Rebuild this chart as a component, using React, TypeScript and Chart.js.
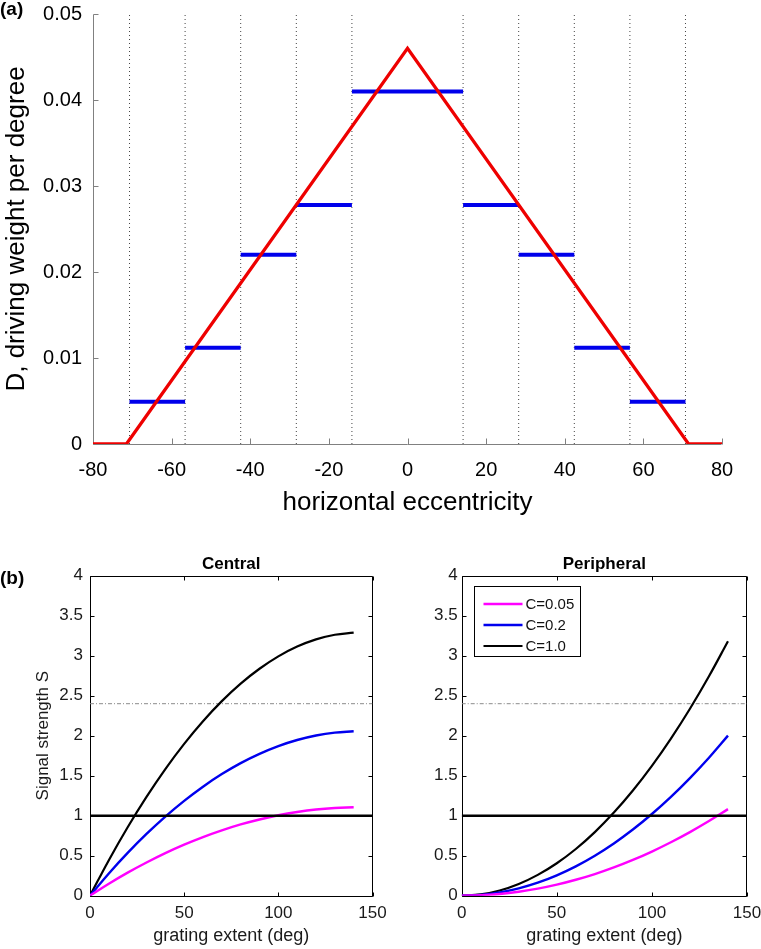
import React, { useEffect, useRef } from 'react';
import { Chart, registerables } from 'chart.js';

Chart.register(...registerables);
Chart.defaults.font.family = '"Liberation Sans", Arial, Helvetica, sans-serif';

// ---------- Panel (a): driving weight vs horizontal eccentricity ----------
const eccTicks = [-80, -60, -40, -20, 0, 20, 40, 60, 80];
const weightTicks = [0, 0.01, 0.02, 0.03, 0.04, 0.05];
const binEdges = [-70.71, -56.57, -42.43, -28.28, -14.14, 14.14, 28.28, 42.43, 56.57, 70.71];
const binWeights = [0.0049, 0.0112, 0.022, 0.0278, 0.041, 0.0278, 0.022, 0.0112, 0.0049];
const profileX = [-80, -71.5, 0, 71.5, 80];
const profileD = [0, 0, 0.046, 0, 0];

// ---------- Panel (b): signal strength vs grating extent ----------
const extentTicks = [0, 50, 100, 150];
const signalTicks = [0, 0.5, 1, 1.5, 2, 2.5, 3, 3.5, 4];
const extent = [0, 10, 20, 30, 40, 50, 60, 70, 80, 90, 100, 110, 120, 130, 140];
const centralC005 = [0, 0.149, 0.288, 0.415, 0.532, 0.638, 0.733, 0.817, 0.891, 0.953, 1.005, 1.046, 1.077, 1.096, 1.105];
const centralC02 = [0, 0.278, 0.535, 0.772, 0.989, 1.186, 1.363, 1.52, 1.657, 1.773, 1.87, 1.946, 2.003, 2.039, 2.055];
const centralC10 = [0, 0.444, 0.856, 1.235, 1.583, 1.898, 2.181, 2.432, 2.651, 2.837, 2.992, 3.114, 3.204, 3.262, 3.288];
const periphC005 = [0, 0.006, 0.022, 0.05, 0.088, 0.138, 0.199, 0.27, 0.353, 0.447, 0.552, 0.668, 0.795, 0.933, 1.082];
const periphC02 = [0, 0.01, 0.041, 0.092, 0.163, 0.255, 0.367, 0.5, 0.653, 0.827, 1.021, 1.235, 1.47, 1.725, 2.001];
const periphC10 = [0, 0.016, 0.065, 0.146, 0.26, 0.406, 0.584, 0.795, 1.039, 1.315, 1.623, 1.964, 2.337, 2.743, 3.181];
const contrastLabels = ['C=0.05', 'C=0.2', 'C=1.0'];
const contrastColors = ['#ff00ff', '#0000ee', '#000000'];
const thresholdS = 1;
const criterionS = 2.4;

const fmt = (v: any) => String(Number(Number(v).toFixed(6)));

// Draws MATLAB-like axes with inward ticks
const matlabAxes = {
  id: 'matlabAxes',
  beforeDatasetsDraw(chart: any, _args: any, opts: any) {
    if (!opts || !opts.enabled) return;
    const { ctx, chartArea: a } = chart;
    const xs = chart.scales.x;
    const ys = chart.scales.y;
    const L = Math.round(a.left) + 0.5;
    const R = Math.round(a.right) - 0.5;
    const T = Math.round(a.top) + 0.5;
    const B = Math.round(a.bottom) + 0.5;
    ctx.save();
    ctx.strokeStyle = opts.color;
    ctx.lineWidth = 1;
    ctx.beginPath();
    ctx.moveTo(L, T);
    ctx.lineTo(L, B);
    ctx.lineTo(R, B);
    if (opts.box) {
      ctx.lineTo(R, T);
      ctx.lineTo(L, T);
    }
    ctx.stroke();
    ctx.beginPath();
    xs.ticks.forEach((t: any) => {
      const px = Math.round(xs.getPixelForValue(t.value)) + 0.5;
      ctx.moveTo(px, B);
      ctx.lineTo(px, B - opts.xLen);
      if (opts.box) {
        ctx.moveTo(px, T);
        ctx.lineTo(px, T + opts.xLen);
      }
    });
    ys.ticks.forEach((t: any) => {
      const py = Math.round(ys.getPixelForValue(t.value)) + 0.5;
      ctx.moveTo(L, py);
      ctx.lineTo(L + opts.yLen, py);
      if (opts.box) {
        ctx.moveTo(R, py);
        ctx.lineTo(R - opts.yLen, py);
      }
    });
    ctx.stroke();
    ctx.restore();
  },
};

// Legend drawn inside the plot area (top-left), like MATLAB
const insetLegend = {
  id: 'insetLegend',
  afterDraw(chart: any, _args: any, opts: any) {
    if (!opts || !opts.enabled) return;
    const { ctx, chartArea: a } = chart;
    const items = chart.data.datasets.filter((d: any) => d.inLegend);
    const bx = Math.round(a.left + opts.dx) + 0.5;
    const by = Math.round(a.top + opts.dy) + 0.5;
    ctx.save();
    ctx.fillStyle = '#ffffff';
    ctx.fillRect(bx, by, opts.w, opts.h);
    ctx.strokeStyle = '#000';
    ctx.lineWidth = 1;
    ctx.strokeRect(bx, by, opts.w, opts.h);
    ctx.font = opts.font;
    ctx.textBaseline = 'middle';
    ctx.textAlign = 'left';
    items.forEach((d: any, i: number) => {
      const cy = Math.round(by + opts.first + i * opts.step);
      ctx.strokeStyle = d.borderColor;
      ctx.lineWidth = d.borderWidth;
      ctx.beginPath();
      ctx.moveTo(bx + opts.lineX0, cy);
      ctx.lineTo(bx + opts.lineX1, cy);
      ctx.stroke();
      ctx.fillStyle = '#111';
      ctx.fillText(d.label, bx + opts.textX, cy + 0.5);
    });
    ctx.restore();
  },
};

function fixedBox(width?: number, height?: number) {
  return (s: any) => {
    if (width !== undefined) s.width = width;
    if (height !== undefined) s.height = height;
    s.paddingLeft = 0;
    s.paddingRight = 0;
    s.paddingTop = 0;
    s.paddingBottom = 0;
  };
}

function configA(): any {
  const datasets: any[] = [
    {
      label: 'D',
      data: profileX.map((x, i) => ({ x, y: profileD[i] })),
      borderColor: 'rgb(238,0,0)',
      borderWidth: 3.3,
      pointRadius: 0,
      tension: 0,
      borderJoinStyle: 'miter',
    },
    ...binWeights.map((w, i) => ({
      label: 'bin' + i,
      data: [
        { x: binEdges[i], y: w },
        { x: binEdges[i + 1], y: w },
      ],
      borderColor: 'rgb(0,0,235)',
      borderWidth: 4,
      pointRadius: 0,
    })),
    ...binEdges.map((b, i) => ({
      label: 'edge' + i,
      data: [
        { x: b, y: weightTicks[0] },
        { x: b, y: weightTicks[weightTicks.length - 1] },
      ],
      borderColor: '#444',
      borderWidth: 1,
      borderDash: [1, 3],
      pointRadius: 0,
    })),
  ];
  return {
    type: 'line',
    data: { datasets },
    options: {
      responsive: false,
      animation: false,
      events: [],
      layout: { padding: { top: 14, right: 39, left: 0, bottom: 0 } },
      plugins: {
        legend: { display: false },
        tooltip: { enabled: false },
        matlabAxes: { enabled: true, box: false, color: '#808080', xLen: 6, yLen: 5 },
      },
      scales: {
        x: {
          type: 'linear',
          min: eccTicks[0],
          max: eccTicks[eccTicks.length - 1],
          afterBuildTicks: (s: any) => {
            s.ticks = eccTicks.map((v) => ({ value: v }));
          },
          afterFit: fixedBox(undefined, 86),
          grid: { display: false, drawTicks: false, tickLength: 0 },
          border: { display: false },
          ticks: { callback: fmt, font: { size: 20 }, color: '#000', padding: 14, maxRotation: 0, autoSkip: false },
          title: {
            display: true,
            text: 'horizontal eccentricity',
            font: { size: 26 },
            color: '#000',
            padding: { top: 0, bottom: 11.4 },
          },
        },
        y: {
          type: 'linear',
          min: weightTicks[0],
          max: weightTicks[weightTicks.length - 1],
          afterBuildTicks: (s: any) => {
            s.ticks = weightTicks.map((v) => ({ value: v }));
          },
          afterFit: fixedBox(93, undefined),
          grid: { display: false, drawTicks: false, tickLength: 0 },
          border: { display: false },
          ticks: { callback: fmt, font: { size: 20 }, color: '#000', padding: 11, autoSkip: false },
          title: {
            display: true,
            text: 'D, driving weight per degree',
            font: { size: 26 },
            color: '#000',
            padding: { top: 1, bottom: 0 },
          },
        },
      },
    },
    plugins: [matlabAxes],
  };
}

function configB(
  title: string,
  low: number[],
  mid: number[],
  high: number[],
  yWidth: number,
  yPad: number,
  showYTitle: boolean,
  rightPad: number,
  showLegend: boolean
): any {
  const series = [low, mid, high];
  const xMin = extentTicks[0];
  const xMax = extentTicks[extentTicks.length - 1];
  const datasets: any[] = [
    {
      label: 'threshold',
      data: [
        { x: xMin, y: thresholdS },
        { x: xMax, y: thresholdS },
      ],
      borderColor: '#000',
      borderWidth: 2.6,
      pointRadius: 0,
    },
    ...series.map((vals, k) => ({
      label: contrastLabels[k],
      inLegend: true,
      data: extent.map((x, i) => ({ x, y: vals[i] })),
      borderColor: contrastColors[k],
      borderWidth: k === 2 ? 2.2 : 2.4,
      pointRadius: 0,
      tension: 0.4,
    })),
    {
      label: 'criterion',
      data: [
        { x: xMin, y: criterionS },
        { x: xMax, y: criterionS },
      ],
      borderColor: '#8c8c8c',
      borderWidth: 1,
      borderDash: [4, 2, 1, 2],
      pointRadius: 0,
    },
  ];
  return {
    type: 'line',
    data: { datasets },
    options: {
      responsive: false,
      animation: false,
      events: [],
      layout: { padding: { top: 0, right: rightPad, left: 0, bottom: 0 } },
      plugins: {
        legend: { display: false },
        tooltip: { enabled: false },
        title: {
          display: true,
          text: title,
          fullSize: false,
          font: { size: 17, weight: 'bold' },
          color: '#000',
          padding: { top: 8.9, bottom: 1.4 },
        },
        matlabAxes: { enabled: true, box: true, color: '#000', xLen: 4, yLen: 4 },
        insetLegend: {
          enabled: showLegend,
          dx: 12.6,
          dy: 10.7,
          w: 106,
          h: 70,
          first: 17.3,
          step: 21.3,
          lineX0: 9,
          lineX1: 48,
          textX: 51,
          font: '15px "Liberation Sans", Arial, sans-serif',
        },
      },
      scales: {
        x: {
          type: 'linear',
          min: xMin,
          max: xMax,
          afterBuildTicks: (s: any) => {
            s.ticks = extentTicks.map((v) => ({ value: v }));
          },
          afterFit: fixedBox(undefined, 53.3),
          grid: { display: false, drawTicks: false, tickLength: 0 },
          border: { display: false },
          ticks: { callback: fmt, font: { size: 17 }, color: '#1a1a1a', padding: 7.8, maxRotation: 0, autoSkip: false },
          title: {
            display: true,
            text: 'grating extent (deg)',
            font: { size: 18 },
            color: '#1a1a1a',
            padding: { top: 0, bottom: 1.8 },
          },
        },
        y: {
          type: 'linear',
          min: signalTicks[0],
          max: signalTicks[signalTicks.length - 1],
          afterBuildTicks: (s: any) => {
            s.ticks = signalTicks.map((v) => ({ value: v }));
          },
          afterFit: fixedBox(yWidth, undefined),
          grid: { display: false, drawTicks: false, tickLength: 0 },
          border: { display: false },
          ticks: { callback: fmt, font: { size: 17 }, color: '#1a1a1a', padding: yPad, autoSkip: false },
          title: {
            display: showYTitle,
            text: 'Signal strength S',
            font: { size: 17 },
            color: '#1a1a1a',
            padding: { top: 33.2, bottom: 0 },
          },
        },
      },
    },
    plugins: [matlabAxes, insetLegend],
  };
}

function ChartCanvas(props: { make: () => any; left: number; top: number; width: number; height: number }) {
  const ref = useRef<HTMLCanvasElement | null>(null);
  useEffect(() => {
    const chart = new Chart(ref.current as HTMLCanvasElement, props.make());
    return () => chart.destroy();
  }, []);
  return (
    <canvas
      ref={ref}
      width={props.width}
      height={props.height}
      style={{
        position: 'absolute',
        left: props.left,
        top: props.top,
        width: props.width,
        height: props.height,
      }}
    />
  );
}

const panelLabelStyle: React.CSSProperties = {
  position: 'absolute',
  left: 0,
  fontFamily: '"Liberation Sans", Arial, sans-serif',
  fontWeight: 'bold',
  fontSize: 19,
  lineHeight: '19px',
  color: '#000',
};

export default function App() {
  return (
    <div
      style={{
        position: 'fixed',
        left: 0,
        top: 0,
        width: 761,
        height: 949,
        background: '#fff',
        overflow: 'hidden',
      }}
    >
      <ChartCanvas make={configA} left={0} top={0} width={761} height={530} />
      <ChartCanvas
        make={() => configB('Central', centralC005, centralC02, centralC10, 90, 7, true, 47.5, false)}
        left={0}
        top={545}
        width={420}
        height={404}
      />
      <ChartCanvas
        make={() => configB('Peripheral', periphC005, periphC02, periphC10, 61.7, 4, false, 14, true)}
        left={400}
        top={545}
        width={361}
        height={404}
      />
      <div style={{ ...panelLabelStyle, top: -1 }}>(a)</div>
      <div style={{ ...panelLabelStyle, top: 568 }}>(b)</div>
    </div>
  );
}
